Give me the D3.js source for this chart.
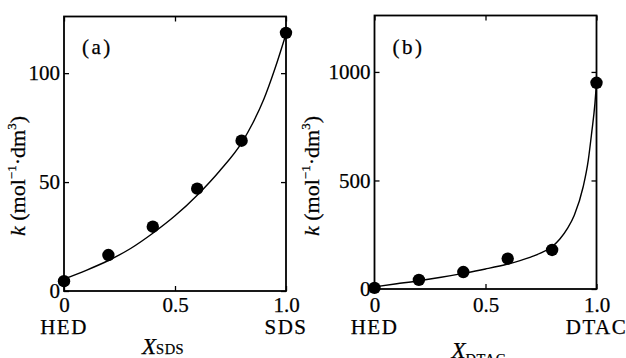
<!DOCTYPE html>
<html>
<head>
<meta charset="utf-8">
<script src="https://cdn.jsdelivr.net/npm/d3@7"></script>
<style>
  html, body { margin: 0; padding: 0; background: #fff; }
  svg { display: block; }
  svg text { font-family: "Liberation Serif", "Times New Roman", serif !important; fill: #000; stroke: #000; stroke-width: 0.25px; }
</style>
</head>
<body>
<svg id="chart" width="626" height="358"></svg>
<script>
// Mole fraction of the ionic surfactant in the mixed micelle
const xMeasured = [0, 0.2, 0.4, 0.6, 0.8, 1.0];

// (a) HED–SDS mixtures: measured rate constants k / mol^-1 dm^3
const kSDS = [4.5, 16.5, 29.5, 47, 69, 118.5];
// (b) HED–DTAC mixtures
const kDTAC = [5, 42, 78, 140, 180, 950];

// Calculated curves
const xFitSDS = [0, 0.1, 0.2, 0.3, 0.4, 0.5, 0.6, 0.7, 0.8, 0.85, 0.9, 0.95, 1.0];
const kFitSDS = [5.5, 9.5, 14, 19.5, 26.5, 34.5, 44, 55, 68, 77, 88, 102, 118];
const xFitDTAC = [0, 0.1, 0.2, 0.3, 0.4, 0.5, 0.6, 0.7, 0.75, 0.8, 0.835, 0.87, 0.9, 0.94, 0.963, 0.978, 0.993, 1.0];
const kFitDTAC = [10, 24, 38, 54, 72, 92, 115, 146, 166, 195, 230, 280, 340, 471, 594, 717, 855, 950];

// Axis ticks
const xTicks = [0, 0.5, 1.0];
const xTickLabels = ["0", "0.5", "1.0"];
const yTicksSDS = [0, 50, 100];
const yTicksDTAC = [0, 500, 1000];

const panels = [
  {
    tag: "(a)", left: "HED", right: "SDS", sub: "SDS",
    pts: kSDS, fx: xFitSDS, fy: kFitSDS, yTicks: yTicksSDS,
    yMax: 126, xr: [64, 286], yr: [291, 16.5],
    yLabelX: 25, xLabelX: 142, xLabelY: 354, subDy: 0
  },
  {
    tag: "(b)", left: "HED", right: "DTAC", sub: "DTAC",
    pts: kDTAC, fx: xFitDTAC, fy: kFitDTAC, yTicks: yTicksDTAC,
    yMax: 1260, xr: [374.5, 596.5], yr: [289, 15.5],
    yLabelX: 319, xLabelX: 451.5, xLabelY: 357.5, subDy: 6
  }
];

const svg = d3.select("#chart");

panels.forEach(p => {
  const x = d3.scaleLinear().domain([0, 1]).range(p.xr);
  const y = d3.scaleLinear().domain([0, p.yMax]).range(p.yr);
  const g = svg.append("g");

  // axes with inward ticks on all four sides
  const tickLen = -5;
  g.append("g").attr("transform", `translate(${x(0)},0)`)
    .call(d3.axisLeft(y).tickValues(p.yTicks).tickSize(tickLen).tickPadding(4).tickFormat(d3.format("d")));
  g.append("g").attr("transform", `translate(${x(1)},0)`)
    .call(d3.axisRight(y).tickValues(p.yTicks).tickSize(tickLen).tickFormat(""));
  const bottom = g.append("g").attr("transform", `translate(0,${y(0)})`)
    .call(d3.axisBottom(x).tickValues(xTicks).tickSize(tickLen).tickFormat((d, i) => xTickLabels[i]));
  g.append("g").attr("transform", `translate(0,${y(p.yMax)})`)
    .call(d3.axisTop(x).tickValues(xTicks).tickSize(tickLen).tickFormat(""));

  g.selectAll(".domain").remove();
  g.selectAll(".tick line").attr("stroke", "#000").attr("stroke-width", 1.3);
  g.selectAll(".tick text").attr("font-size", 21);
  bottom.selectAll(".tick text").attr("dy", null).attr("y", 312 - y(0));

  // frame
  g.append("rect")
    .attr("x", x(0)).attr("y", y(p.yMax))
    .attr("width", x(1) - x(0)).attr("height", y(0) - y(p.yMax))
    .attr("fill", "none").attr("stroke", "#000").attr("stroke-width", 1.8);

  // component names under the end ticks
  g.append("text").attr("x", x(0)).attr("y", 334).attr("text-anchor", "middle")
    .attr("font-size", 21).attr("letter-spacing", 1.5).text(p.left);
  g.append("text").attr("x", x(1)).attr("y", 334).attr("text-anchor", "middle")
    .attr("font-size", 21).attr("letter-spacing", 1.5).text(p.right);

  // calculated curve
  const fit = p.fx.map((v, i) => [v, p.fy[i]]);
  g.append("path").datum(fit)
    .attr("fill", "none").attr("stroke", "#000").attr("stroke-width", 1.4)
    .attr("d", d3.line().x(d => x(d[0])).y(d => y(d[1])).curve(d3.curveMonotoneX));

  // measured points
  g.selectAll("circle.pt").data(xMeasured.map((v, i) => [v, p.pts[i]]))
    .join("circle").attr("class", "pt")
    .attr("cx", d => x(d[0])).attr("cy", d => y(d[1])).attr("r", 6.2)
    .attr("fill", "#000");

  // panel tag
  g.append("text").attr("x", x(0) + 18).attr("y", 54)
    .attr("font-size", 21).attr("letter-spacing", 2.5).text(p.tag);

  // y-axis title: k (mol^-1·dm^3)
  const yl = g.append("text")
    .attr("transform", `translate(${p.yLabelX},176) rotate(-90)`)
    .attr("text-anchor", "middle").attr("font-size", 22);
  yl.append("tspan").attr("font-style", "italic").text("k");
  yl.append("tspan").text(" (mol");
  yl.append("tspan").attr("font-size", 13).attr("dy", -9).text("−1");
  yl.append("tspan").attr("dy", 9).text("·dm");
  yl.append("tspan").attr("font-size", 13).attr("dy", -9).text("3");
  yl.append("tspan").attr("dy", 9).text(")");

  // x-axis title: X with subscript
  const xl = g.append("text").attr("x", p.xLabelX).attr("y", p.xLabelY).attr("font-size", 23);
  xl.append("tspan").attr("font-style", "italic").text("X");
  xl.append("tspan").attr("font-size", 14.5).attr("dy", p.subDy).attr("letter-spacing", 0.5).text(p.sub);
});
</script>
</body>
</html>
